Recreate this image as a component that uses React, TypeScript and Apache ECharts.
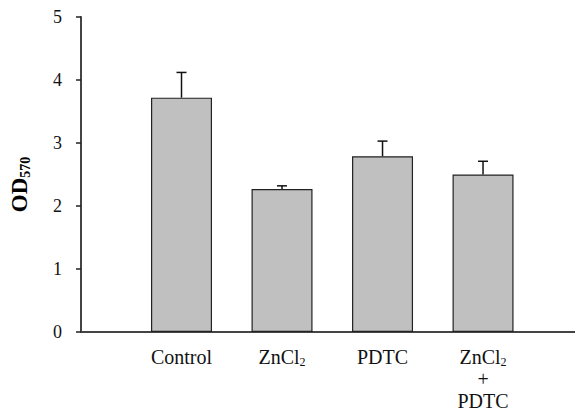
import React, { useEffect, useRef } from "react";
import * as echarts from "echarts";

const categories = ["Control", "ZnCl{sub|2}", "PDTC", "ZnCl{sub|2}\n+\nPDTC"];
const positions = [1, 2, 3, 4];
const means = [3.72, 2.27, 2.79, 2.5];
const errorTops = [4.12, 2.32, 3.03, 2.71];
const yTicks = [0, 1, 2, 3, 4, 5];

const FONT = '"Liberation Serif", "DejaVu Serif", serif';
const CSS = `body{margin:0} #chart-root svg text, #chart-root svg tspan { font-family: "Liberation Serif", "DejaVu Serif", serif !important; }`;

export default function App() {
  const ref = useRef<HTMLDivElement>(null);
  useEffect(() => {
    document.body.style.margin = "0";
    const chart = echarts.init(ref.current!, null, { renderer: "svg" });
    const barData = positions.map((p, i) => [p, means[i]]);
    const errData = positions.map((p, i) => [p, means[i], errorTops[i]]);
    chart.setOption({
      animation: false,
      textStyle: { fontFamily: FONT },
      grid: { left: 81, right: 0, top: 17, bottom: 80, containLabel: false, outerBoundsMode: "none" },
      xAxis: {
        type: "value",
        min: 0,
        max: 4.915,
        interval: 1,
        splitLine: { show: false },
        axisTick: { show: false },
        axisLine: { show: true, lineStyle: { color: "#444", width: 2 } },
        axisLabel: {
          showMaxLabel: false,
          margin: 14,
          color: "#111",
          fontFamily: FONT,
          fontSize: 20,
          lineHeight: 22,
          formatter: (v: number) => {
            const idx = positions.indexOf(v);
            return idx >= 0 ? categories[idx] : "";
          },
          rich: {
            sub: { fontFamily: FONT, fontSize: 12, verticalAlign: "bottom", lineHeight: 20, color: "#111" },
          },
        },
      },
      yAxis: {
        type: "value",
        min: yTicks[0],
        max: yTicks[yTicks.length - 1],
        interval: 1,
        splitLine: { show: false },
        axisLine: { show: true, lineStyle: { color: "#444", width: 2 } },
        axisTick: { show: true, inside: false, length: 5, lineStyle: { color: "#222", width: 1.5 } },
        axisLabel: { margin: 19, color: "#111", fontFamily: FONT, fontSize: 18 },
        name: "OD{sub|570}",
        nameLocation: "middle",
        nameGap: 49,
        nameRotate: 90,
        nameTextStyle: {
          fontFamily: FONT,
          fontSize: 23,
          fontWeight: "bold",
          color: "#000",
          padding: [0, 20, 0, 0],
          rich: {
            sub: { fontFamily: FONT, fontSize: 14, fontWeight: "bold", verticalAlign: "bottom", lineHeight: 26, color: "#000" },
          },
        },
      },
      series: [
        {
          type: "bar",
          data: barData,
          barWidth: 61,
          itemStyle: { color: "#c0c0c0", borderColor: "#222", borderWidth: 1.2 },
        },
        {
          type: "custom",
          data: errData,
          encode: { x: 0, y: 2 },
          z: 3,
          renderItem: (params: any, api: any) => {
            const x = api.value(0);
            const base = api.coord([x, api.value(1)]);
            const top = api.coord([x, api.value(2)]);
            const style = { stroke: "#111", lineWidth: 1.5 };
            return {
              type: "group",
              children: [
                { type: "line", shape: { x1: base[0], y1: base[1], x2: top[0], y2: top[1] }, style },
                { type: "line", shape: { x1: top[0] - 5, y1: top[1], x2: top[0] + 5, y2: top[1] }, style },
              ],
            };
          },
        },
      ],
    });
    return () => chart.dispose();
  }, []);
  return (
    <>
      <style>{CSS}</style>
      <div id="chart-root" ref={ref} style={{ width: 575, height: 412 }} />
    </>
  );
}
